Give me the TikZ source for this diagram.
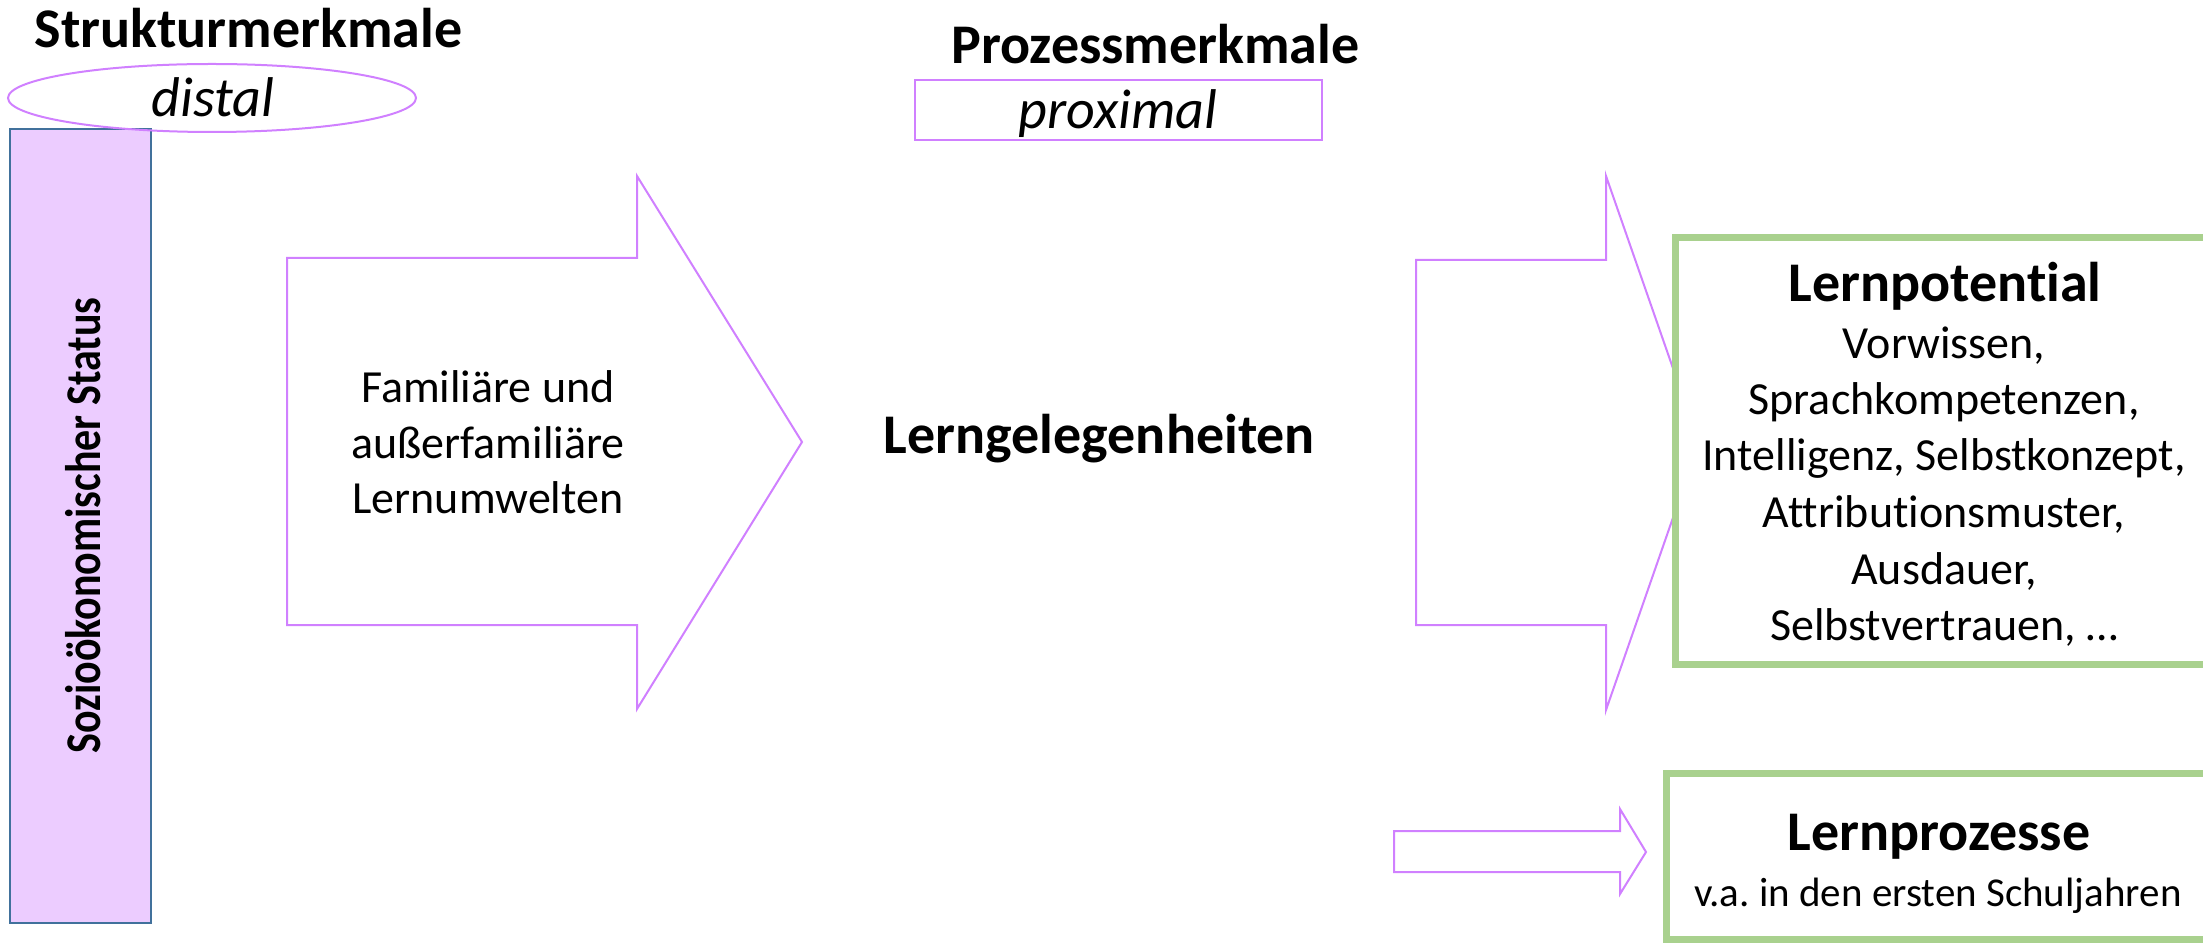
\documentclass[tikz,border=0pt]{standalone}
\usepackage{fontspec}
\setmainfont{Carlito}[Ligatures=NoCommon]
\usetikzlibrary{shapes.geometric}

\definecolor{lilac}{RGB}{208,128,255}
\definecolor{lilacfill}{RGB}{236,204,255}
\definecolor{steel}{RGB}{65,113,156}
\definecolor{sage}{RGB}{169,209,142}

\frenchspacing
\begin{document}
\begin{tikzpicture}[x=0.5pt,y=-0.5pt,
  head/.style={font=\fontsize{28}{34}\selectfont\bfseries, inner sep=0pt, anchor=base},
  tag/.style={font=\fontsize{28}{34}\selectfont\itshape, inner sep=0pt, anchor=base},
  body/.style={font=\fontsize{23}{28}\selectfont, inner sep=0pt, anchor=base},
  small/.style={font=\fontsize{20.5}{25}\selectfont, inner sep=0pt, anchor=base},
  blockarrow/.style={draw=lilac, line width=1pt, fill=white, line join=miter},
  framebox/.style={draw=sage, line width=3.5pt, fill=white, inner sep=0pt},
]
\useasboundingbox (0,0) rectangle (2203,945);
\begin{scope}
\clip (0,0) rectangle (2203,945);

% structural features: status bar with its ellipse label
\node[draw=steel, fill=lilacfill, line width=1pt, inner sep=0pt,
      minimum width=70.5pt, minimum height=397pt] (status) at (80.5,526) {};
\node[head, rotate=90] (statustext) at (100.5,525.5)
  {\scalebox{0.84}[1]{\fontsize{25}{30}\selectfont Sozioökonomischer Status}};
\node[head] (struktur) at (248.5,48) {Strukturmerkmale};
\node[ellipse, draw=lilac, line width=1pt, inner sep=0pt,
      minimum width=204pt, minimum height=34pt] (distalring) at (212,98) {};
\node[tag] (distal) at (213,117) {distal};

% process features
\node[head] (prozess) at (1155.5,64) {Prozessmerkmale};
\node[draw=lilac, line width=1pt, inner sep=0pt,
      minimum width=203.5pt, minimum height=30pt] (proxbox) at (1118.5,110) {};
\node[tag] (proximal) at (1118,129) {proximal};

% large arrow: learning environments
\draw[blockarrow] (287,258) -- (637,258) -- (637,176) -- (802,442)
  -- (637,709) -- (637,625) -- (287,625) -- cycle;
\node[body] (env1) at (488,403) {Familiäre und};
\node[body] (env2) at (488,458.5) {außerfamiliäre};
\node[body] (env3) at (488,514) {Lernumwelten};

\node[head] (gelegenheiten) at (1099.5,454) {Lerngelegenheiten};

% arrows towards the outcome boxes
\draw[blockarrow] (1416,260) -- (1606,260) -- (1606,176) -- (1699,443)
  -- (1606,710) -- (1606,625) -- (1416,625) -- cycle;
\draw[blockarrow] (1394,831) -- (1620,831) -- (1620,809) -- (1646,852)
  -- (1620,894) -- (1620,872) -- (1394,872) -- cycle;

% outcome boxes, running off the right edge
\node[framebox, minimum width=292.5pt, minimum height=213pt] (potential) at (1967.5,451) {};
\node[head] (potentialtitle) at (1945,302) {Lernpotential};
\node[body] (pot1) at (1944,359) {Vorwissen,};
\node[body] (pot2) at (1944,415) {Sprachkompetenzen,};
\node[body] (pot3) at (1944,471) {Intelligenz, Selbstkonzept,};
\node[body] (pot4) at (1944,528) {Attributionsmuster,};
\node[body] (pot5) at (1944,584) {Ausdauer,};
\node[body] (pot6) at (1944,640) {Selbstvertrauen, …};

\node[framebox, minimum width=297pt, minimum height=83.25pt] (prozesse) at (1963,856.25) {};
\node[head] (prozessetitle) at (1939,850) {Lernprozesse};
\node[small] (prozessenote) at (1938,906) {v.a. in den ersten Schuljahren};
\end{scope}
\end{tikzpicture}
\end{document}
